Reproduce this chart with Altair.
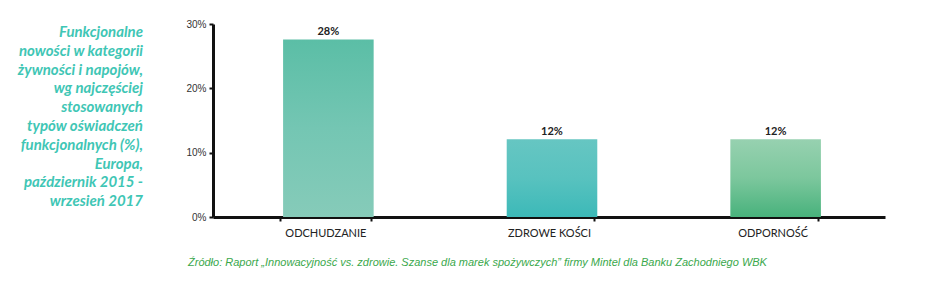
import altair as alt
import pandas as pd

categories = ["ODCHUDZANIE", "ZDROWE KOŚCI", "ODPORNOŚĆ"]
values = [27.6, 12.1, 12.1]
value_labels = ["28%", "12%", "12%"]
y_ticks = [0, 10, 20, 30]

title_lines = [
    "Funkcjonalne",
    "nowości w kategorii",
    "żywności i napojów,",
    "wg najczęściej",
    "stosowanych",
    "typów oświadczeń",
    "funkcjonalnych (%),",
    "Europa,",
    "październik 2015 -",
    "wrzesień 2017",
]
source_text = ("Źródło: Raport „Innowacyjność vs. zdrowie. Szanse dla marek spożywczych” "
               "firmy Mintel dla Banku Zachodniego WBK")

gradients = [
    ["#5bbea6", "#74c6b3", "#86cbb9"],
    ["#66c6c2", "#58c2bf", "#3cb9b8"],
    ["#97d1b0", "#7cc79d", "#48b27c"],
]

df = pd.DataFrame({"cat": categories, "val": values, "lab": value_labels})

x_enc = alt.X("cat:N", sort=categories, title=None,
              scale=alt.Scale(paddingInner=0.595, paddingOuter=0.3),
              axis=alt.Axis(labelAngle=0, labelFont="Lato", labelFontSize=11,
                            labelColor="#222222", labelPadding=6,
                            domainColor="#111111", domainWidth=3,
                            tickColor="#111111", tickWidth=2, tickSize=4,
                            tickBand="extent"))
y_enc = alt.Y("val:Q", title=None,
              scale=alt.Scale(domain=[0, 30]),
              axis=alt.Axis(values=y_ticks, labelExpr="datum.value + '%'",
                            labelFont="Liberation Sans", labelFontSize=10,
                            labelColor="#333333", labelPadding=3,
                            domainColor="#111111", domainWidth=3,
                            tickColor="#111111", tickWidth=2, tickSize=4,
                            grid=False))

base = alt.Chart(df)

bars = []
for cat, stops in zip(categories, gradients):
    grad = alt.Gradient(
        gradient="linear", x1=0, y1=0, x2=0, y2=1,
        stops=[alt.GradientStop(color=stops[0], offset=0),
               alt.GradientStop(color=stops[1], offset=0.5),
               alt.GradientStop(color=stops[2], offset=1)],
    )
    bars.append(
        base.transform_filter(alt.datum.cat == cat)
        .mark_bar(fill=grad, xOffset=3)
        .encode(x=x_enc, y=y_enc)
    )

labels = base.mark_text(font="Lato", fontSize=11, fontWeight="bold",
                        color="#222222", baseline="bottom", dy=-2, dx=3).encode(
    x=alt.X("cat:N", sort=categories), y="val:Q", text="lab:N")

title_df = pd.DataFrame({"t": [title_lines]})
title_mark = alt.Chart(title_df).mark_text(
    font="Lato", fontSize=15, fontStyle="italic", fontWeight="bold",
    color="#3fc6b5", align="right", baseline="top", lineHeight=18.8,
).encode(x=alt.value(-70), y=alt.value(1), text="t")

src_df = pd.DataFrame({"s": [source_text]})
source_mark = alt.Chart(src_df).mark_text(
    font="Liberation Sans", fontSize=11, fontStyle="italic",
    color="#3aa84c", align="left", baseline="middle",
).encode(x=alt.value(-25), y=alt.value(239), text="s")

chart = alt.layer(*bars, labels, title_mark, source_mark).properties(
    width=672, height=193,
    background="white",
    autosize=alt.AutoSizeParams(type="none"),
    padding={"left": 213, "top": 24, "right": 46, "bottom": 78},
).configure_view(strokeWidth=0, stroke=None)

chart.save("out.html", embed_options={"renderer": "svg", "actions": False})
